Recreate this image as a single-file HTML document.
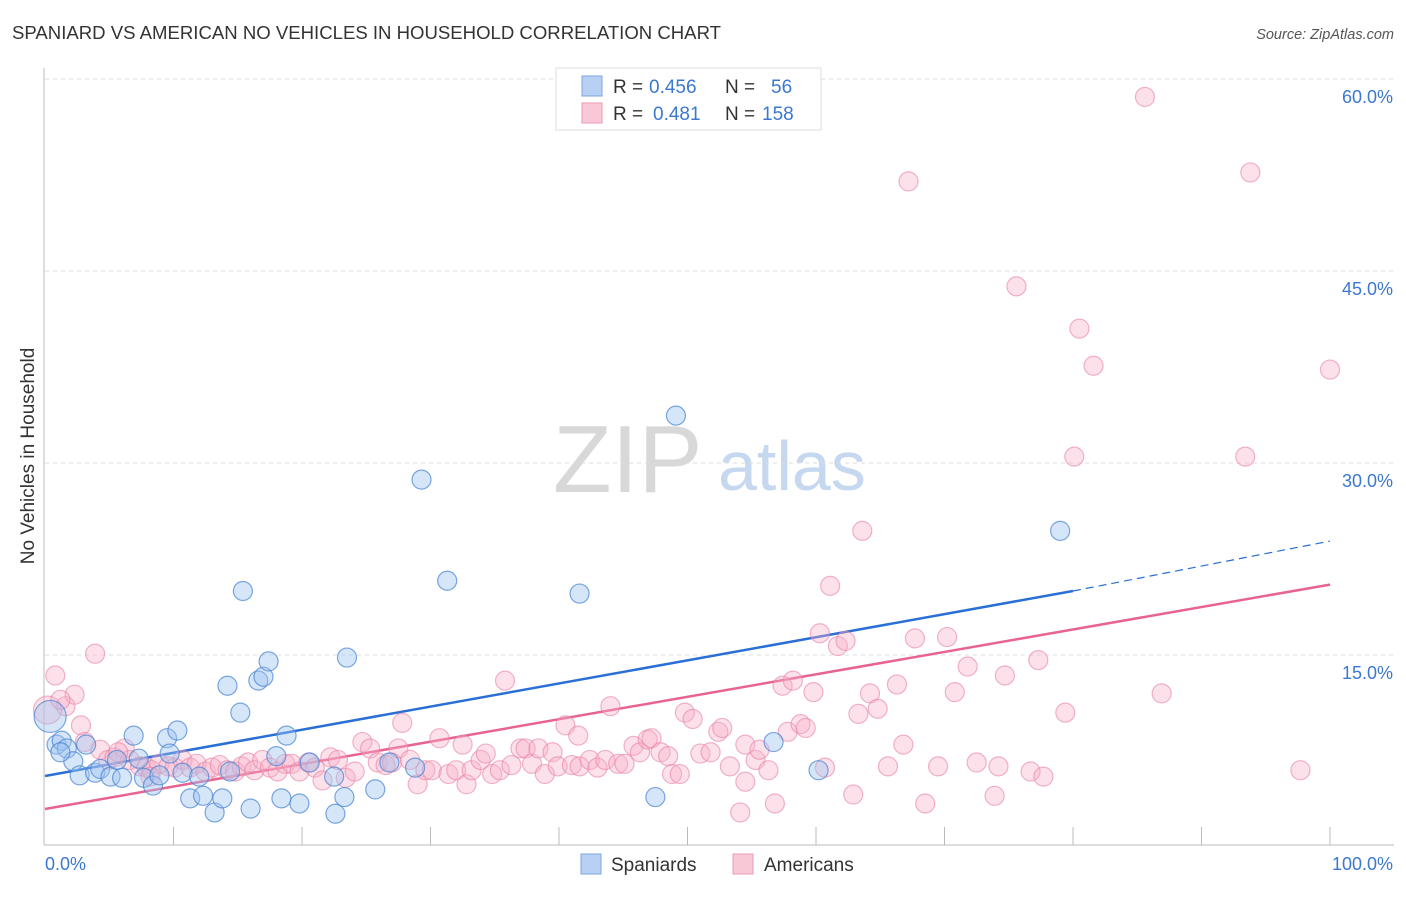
<!DOCTYPE html>
<html><head><meta charset="utf-8"><style>
body{margin:0;background:#fff;font-family:"Liberation Sans",sans-serif;}
svg text{font-family:"Liberation Sans",sans-serif;}
</style></head><body>
<svg id="chart" width="1406" height="892" xmlns="http://www.w3.org/2000/svg">
<text x="12" y="39" font-size="18.5" fill="#333" textLength="709" lengthAdjust="spacingAndGlyphs">SPANIARD VS AMERICAN NO VEHICLES IN HOUSEHOLD CORRELATION CHART</text>
<text x="1394" y="39" font-size="14.5" fill="#555" font-style="italic" text-anchor="end">Source: ZipAtlas.com</text>
<text transform="translate(34,456) rotate(-90)" font-size="19" fill="#333" text-anchor="middle">No Vehicles in Household</text>
<g>
<text x="553" y="492" font-family="Liberation Serif,serif" font-size="96" fill="#d8d8d8">ZIP</text>
<text x="718" y="490" font-size="70" fill="#c5d8ef">atlas</text>
</g>
<g id="grid"></g>
<g id="axes"></g>
<g id="trend"></g>
<g id="points"></g>
<g>
<rect x="556" y="68" width="265" height="62" fill="#fff" stroke="#ddd"/>
<rect x="582" y="76" width="20" height="20" fill="#b7d0f4" stroke="#7aa6e0"/>
<text x="613" y="93" font-size="19" fill="#333">R =</text><text x="649" y="93" font-size="19" fill="#3b78d0">0.456</text>
<text x="725" y="93" font-size="19" fill="#333">N =</text><text x="771" y="93" font-size="19" fill="#3b78d0">56</text>
<rect x="582" y="103" width="20" height="20" fill="#f8c8d6" stroke="#eb9ab5"/>
<text x="613" y="120" font-size="19" fill="#333">R =</text><text x="653" y="120" font-size="19" fill="#3b78d0">0.481</text>
<text x="725" y="120" font-size="19" fill="#333">N =</text><text x="762" y="120" font-size="19" fill="#3b78d0">158</text>
</g>
<g>
<rect x="581" y="854" width="20" height="20" fill="#b7d0f4" stroke="#7aa6e0"/>
<text x="611" y="871" font-size="19" fill="#333">Spaniards</text>
<rect x="733" y="854" width="20" height="20" fill="#f8c8d6" stroke="#eb9ab5"/>
<text x="764" y="871" font-size="19" fill="#333">Americans</text>
</g>
</svg>
<script>
const yTicks=[15,30,45,60];
const xTickLabels=["0.0%","100.0%"];
const blueX=[0.9,1.3,1.7,2.2,2.7,3.2,3.9,4.3,5.1,5.6,6.0,6.9,7.3,7.7,8.4,8.9,9.5,9.7,10.3,10.7,11.3,12.0,12.3,13.2,13.8,14.2,14.4,15.2,15.4,16.0,16.6,17.0,17.4,18.0,18.4,18.8,19.8,20.6,22.5,22.6,23.3,23.5,25.7,28.8,29.3,31.3,41.6,47.5,49.1,56.7,60.2,79.0,26.8,1.2,0.4];
const blueY=[8.0,8.3,7.7,6.7,5.6,8.0,5.8,6.1,5.5,6.8,5.4,8.7,6.9,5.4,4.8,5.6,8.5,7.3,9.1,5.8,3.8,5.5,4.0,2.7,3.8,12.6,5.9,10.5,20.0,3.0,13.0,13.3,14.5,7.1,3.8,8.7,3.4,6.6,5.5,2.6,3.9,14.8,4.5,6.2,28.7,20.8,19.8,3.9,33.7,8.2,6.0,24.7,6.6,7.4,10.2];
const pinkX=[0.8,1.6,2.3,2.8,3.1,3.9,4.3,4.9,5.4,6.2,6.6,7.4,7.9,8.3,8.9,9.6,10.1,10.7,11.3,11.8,12.5,13.0,13.6,14.2,14.8,15.3,15.8,16.3,16.9,17.5,18.1,18.7,19.2,19.8,20.5,21.0,21.6,22.2,22.8,23.4,24.1,24.7,25.3,25.9,26.5,27.0,27.5,27.8,28.4,29.0,29.6,30.1,30.7,31.4,32.0,32.5,32.8,33.2,33.9,34.3,34.8,35.4,35.8,36.3,37.0,37.4,37.9,38.4,38.9,39.5,39.9,40.5,41.0,41.5,41.6,42.4,43.0,43.6,44.0,44.6,45.1,45.8,46.3,46.9,47.2,47.9,48.5,48.8,49.4,49.8,50.4,51.0,51.8,52.4,52.7,53.3,54.1,54.5,54.5,55.3,55.6,56.3,56.8,57.4,57.8,58.2,58.8,59.2,59.8,60.3,60.7,61.1,61.7,62.3,62.9,63.3,63.6,64.2,64.8,65.6,66.3,66.8,67.2,67.7,68.5,69.5,70.2,70.8,71.8,72.5,73.9,74.2,74.7,75.6,76.7,77.3,77.7,79.4,80.1,80.5,81.6,85.6,86.9,93.4,93.8,97.7,100,0.2,1.2,5.7,8.2];
const pinkY=[13.4,11.0,11.9,9.5,8.2,15.1,7.6,6.8,7.0,7.7,6.8,6.3,6.2,6.0,6.5,6.3,6.2,6.8,6.2,6.5,5.9,6.2,6.4,6.0,5.9,6.3,6.6,6.0,6.8,6.2,5.9,6.5,6.5,5.9,6.6,6.2,5.2,7.0,6.8,5.4,5.9,8.2,7.7,6.6,6.4,6.6,7.7,9.7,6.8,4.9,6.0,6.0,8.5,5.7,6.0,8.0,4.9,6.0,6.8,7.3,5.7,6.0,13.0,6.4,7.7,7.7,6.5,7.7,5.7,7.4,6.3,9.5,6.4,8.7,6.3,6.8,6.2,6.8,11.0,6.5,6.5,7.9,7.4,8.4,8.5,7.4,7.1,5.7,5.7,10.5,10.0,7.3,7.4,9.0,9.3,6.3,2.7,8.0,5.1,6.8,7.6,6.0,3.4,12.6,9.0,13.0,9.6,9.3,12.1,16.7,6.2,20.4,15.7,16.1,4.1,10.4,24.7,12.0,10.8,6.3,12.7,8.0,52.0,16.3,3.4,6.3,16.4,12.1,14.1,6.6,4.0,6.3,13.4,43.8,5.9,14.6,5.5,10.5,30.5,40.5,37.6,58.6,12.0,30.5,52.7,6.0,37.3,10.7,11.5,7.4,5.5];
const blueTrend=[5.55,20.0,23.9];
const pinkTrend=[2.97,20.5];
const NS="http://www.w3.org/2000/svg";
const X0=45,X1=1330,Y0=847,PPU=12.8;
function sx(v){return X0+(X1-X0)*v/100;}
function sy(v){return Y0-v*PPU;}
function mk(tag,parent,attrs){const e=document.createElementNS(NS,tag);for(const k in attrs)e.setAttribute(k,attrs[k]);document.getElementById(parent).appendChild(e);return e;}
yTicks.forEach(t=>{
  const g=mk('line','grid',{x1:45,x2:1394,y1:sy(t),y2:sy(t),stroke:'#ddd','stroke-dasharray':'4,4'});
  
  
  const l=mk('text','grid',{x:1393,y:sy(t)+24,'font-size':18,fill:'#3b78d0','text-anchor':'end'});
  l.textContent=t.toFixed(1)+'%';
  
  
});
let a=mk('line','axes',{x1:44,x2:44,y1:68,y2:845,stroke:'#bbb'});


a=mk('line','axes',{x1:44,x2:1394,y1:845,y2:845,stroke:'#bbb'});


for(let i=1;i<=10;i++){
  const t=mk('line','axes',{x1:sx(i*10),x2:sx(i*10),y1:827,y2:845,stroke:'#bbb'});
  
  
}
let xl=mk('text','axes',{x:45,y:870,'font-size':18,fill:'#3b78d0'});xl.textContent=xTickLabels[0];


xl=mk('text','axes',{x:1393,y:870,'font-size':18,fill:'#3b78d0','text-anchor':'end'});xl.textContent=xTickLabels[1];


function dot(x,y,r,fill,stroke,name){
  const c=mk('circle','points',{cx:sx(x),cy:sy(y),r:r,fill:fill,stroke:stroke,'stroke-width':1.2});
  
  
}
pinkX.forEach((x,i)=>dot(x,pinkY[i],i===pinkX.length-4?14:9.5,'rgba(246,176,200,0.38)','rgba(232,130,165,0.6)','american-point'));
blueX.forEach((x,i)=>dot(x,blueY[i],i===blueX.length-1?16:9.5,'rgba(158,196,240,0.42)','rgba(70,130,210,0.7)','spaniard-point'));
let tl=mk('line','trend',{x1:sx(0),y1:sy(blueTrend[0]),x2:sx(80),y2:sy(blueTrend[1]),stroke:'#2a6fd6','stroke-width':2.5});


tl=mk('line','trend',{x1:sx(80),y1:sy(blueTrend[1]),x2:sx(100),y2:sy(blueTrend[2]),stroke:'#2a6fd6','stroke-width':1.2,'stroke-dasharray':'8,5'});


tl=mk('line','trend',{x1:sx(0),y1:sy(pinkTrend[0]),x2:sx(100),y2:sy(pinkTrend[1]),stroke:'#e8638f','stroke-width':2.5});


</script>
</body></html>
